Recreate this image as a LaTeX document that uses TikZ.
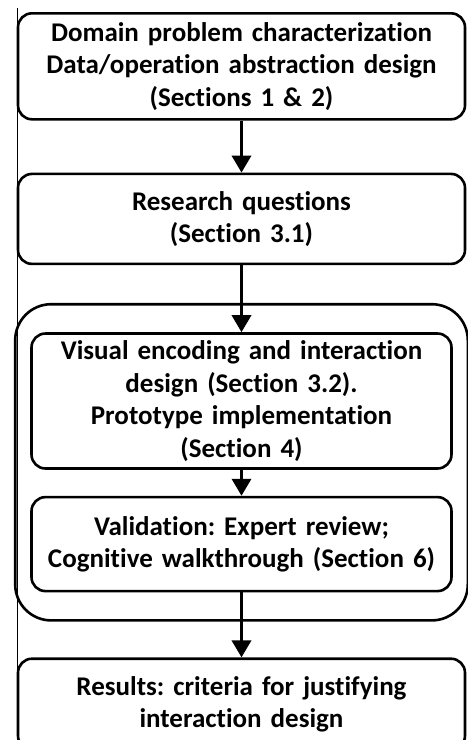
\documentclass[tikz,border=0pt]{standalone}
\usepackage{fontspec}
\setmainfont{Carlito}[RawFeature=-liga]
\usetikzlibrary{arrows.meta,positioning,fit}
\tikzset{
  stage/.style={draw=black,line width=2.6pt,rounded corners=14pt,align=center,
    text width=440pt,inner xsep=3.5pt,inner ysep=3pt,
    font=\fontsize{27}{32.5}\selectfont\bfseries},
  substage/.style={stage,text width=413pt},
  group/.style={draw=black,line width=2.6pt,rounded corners=36pt},
  arrow/.style={-{Triangle[length=17pt,width=19pt]},draw=black,line width=3.5pt}
}
\frenchspacing
\begin{document}
\begin{tikzpicture}[node distance=52pt]
  \useasboundingbox (0,0) rectangle (468pt,-740pt);
  \draw[line width=1pt] (17pt,-8pt) -- (17pt,-740pt);
  \node[stage,minimum height=106pt,anchor=north] (dom) at (241.5pt,-12pt)
    {Domain problem characterization\\Data/operation abstraction design\\(Sections 1 \& 2)};
  \node[stage,minimum height=90pt,below=of dom] (rq) {Research questions\\(Section 3.1)};
  \node[substage,minimum height=135pt,below=67pt of rq] (vis)
    {Visual encoding and interaction\\design (Section 3.2).\\Prototype implementation\\(Section 4)};
  \node[substage,minimum height=94pt,below=26pt of vis] (val)
    {Validation: Expert review;\\Cognitive walkthrough (Section 6)};
  \node[group,fit=(vis)(val),inner xsep=15pt,inner ysep=28pt] (proto) {};
  \node[stage,minimum height=91pt,below=65pt of val] (res)
    {Results: criteria for justifying\\interaction design};
  \draw[arrow] (dom) -- (rq);
  \draw[arrow] (rq) -- (vis);
  \draw[arrow] (vis) -- (val);
  \draw[arrow] (val) -- (res);
\end{tikzpicture}
\end{document}
